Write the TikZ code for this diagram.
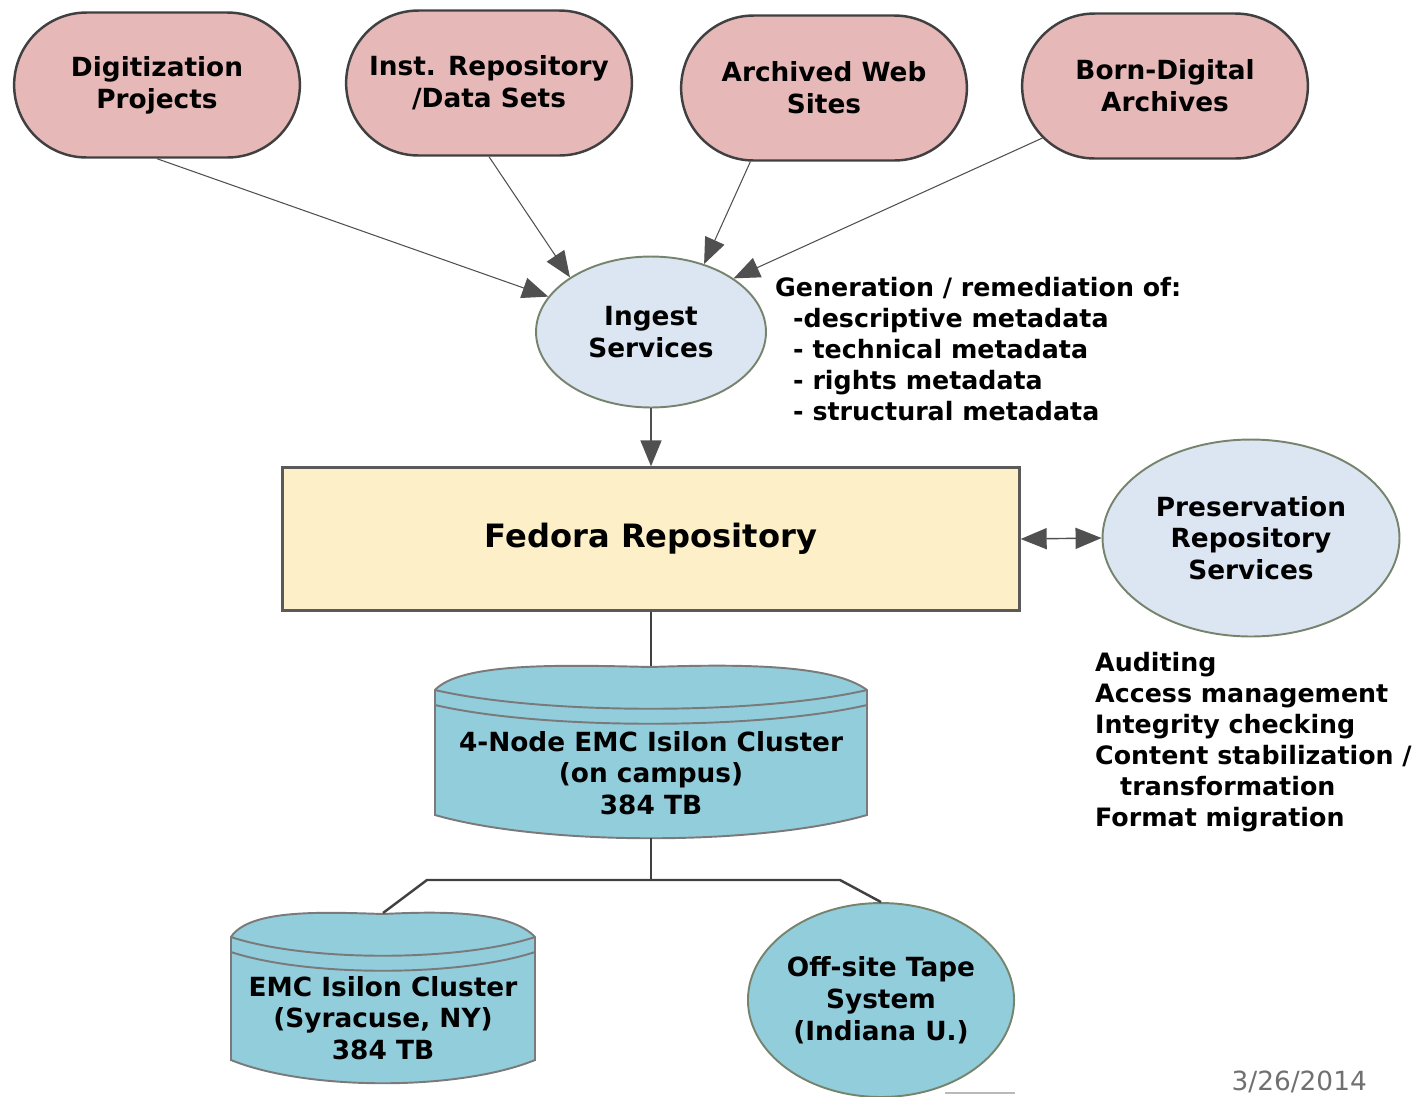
\documentclass[tikz,border=0pt]{standalone}
\usepackage{fontspec}
\setmainfont{DejaVu Sans}
\usetikzlibrary{shapes.geometric,shapes.misc,arrows.meta}

\definecolor{srcpink}{HTML}{E6B9B8}
\definecolor{pinkline}{HTML}{404040}
\definecolor{svcblue}{HTML}{DCE6F2}
\definecolor{svcline}{HTML}{76846E}
\definecolor{fedyellow}{HTML}{FDF0C8}
\definecolor{fedline}{HTML}{5A5A5A}
\definecolor{drumblue}{HTML}{92CDDC}
\definecolor{drumline}{HTML}{7A7A7A}
\definecolor{arrowgray}{HTML}{505050}
\definecolor{dategray}{HTML}{707070}

\tikzset{bigtip/.tip={Triangle[length=0.52cm,width=0.42cm]}}
\tikzset{pics/drum/.style args={#1/#2}{code={
  \path[fill=drumblue,draw=drumline,line width=1.1pt] ({-#1/2},0) -- ({-#1/2},#2)
    .. controls ({-#1/4},{#2+31}) and ({#1/4},{#2+31}) .. ({#1/2},#2) -- ({#1/2},0)
    .. controls ({#1*0.42},-26) and ({#1*0.2},-26) .. (0,-23)
    .. controls ({-#1*0.2},-25) and ({-#1*0.44},-28) .. cycle;
  \draw[drumline,line width=1.1pt] ({-#1/2},0) .. controls ({-#1/4},25) and ({#1/4},25) .. ({#1/2},0);
  \draw[drumline,line width=1.1pt] ({-#1/2},15) .. controls ({-#1/4},40) and ({#1/4},40) .. ({#1/2},15);
  \coordinate (-top) at (0,-24);
  \coordinate (-bot) at (0,{#2+23});
}}}

\begin{document}
\begin{tikzpicture}
[x=0.02cm,y=-0.02cm,
 every node/.style={font=\bfseries\fontsize{15}{18.1}\selectfont,align=center},
 source/.style={rounded rectangle,draw=pinkline,fill=srcpink,line width=1.4pt,minimum width=5.95cm,minimum height=2.9cm},
 service/.style={ellipse,draw=svcline,fill=svcblue,line width=1.1pt,inner sep=0pt},
 notes/.style={align=left,font=\bfseries\fontsize{14.4}{17.6}\selectfont,anchor=north west},
 feed/.style={-bigtip,draw=arrowgray,line width=0.6pt},
 trunk/.style={draw=pinkline,line width=1.4pt}]
\useasboundingbox (0,0) rectangle (1415,1096);

% sources
\node[source] (dig) at (157,85) {Digitization\\Projects};
\node[source] (inst) at (489,83) {Inst. Repository\\/Data Sets};
\node[source] (arch) at (824,88) {Archived Web\\Sites};
\node[source] (born) at (1165,86) {Born-Digital\\Archives};

% services
\node[service,minimum width=4.6cm,minimum height=3.02cm] (ing) at (651,332) {Ingest\\Services};
\node[rectangle,draw=fedline,fill=fedyellow,line width=1.4pt,minimum width=14.74cm,minimum height=2.86cm,
  font=\bfseries\fontsize{18.3}{21}\selectfont] (fed) at (651,539) {Fedora Repository};
\node[service,minimum width=5.94cm,minimum height=3.94cm] (pres) at (1251,538) {Preservation\\Repository\\Services};

\node[notes] (meta) at (769,271) {Generation / remediation of:\\
  \hspace*{0.36cm}-descriptive metadata\\
  \hspace*{0.36cm}- technical metadata\\
  \hspace*{0.36cm}- rights metadata\\
  \hspace*{0.36cm}- structural metadata};
\node[notes] (tasks) at (1089,646) {Auditing\\
  Access management\\
  Integrity checking\\
  Content stabilization /\\
  \hspace*{0.5cm}transformation\\
  Format migration};

% storage
\pic (isi) at (651,690) {drum=432/125};
\pic (syr) at (383,937) {drum=304/123};
\node (isilon) at (651,773) {4-Node EMC Isilon Cluster\\(on campus)\\384 TB};
\node (syracuse) at (383,1018) {EMC Isilon Cluster\\(Syracuse, NY)\\384 TB};
\node[service,fill=drumblue,minimum width=5.24cm,minimum height=3.88cm] (tape) at (881,1000) {Off-site Tape\\System\\(Indiana U.)};
\draw[gray!55,line width=1.5pt] (945,1093) -- (1015,1093);

\node[font=\fontsize{15}{18}\selectfont,text=dategray,anchor=base east] (date) at (1373,1090) {3/26/2014};

\coordinate (split) at (651,880);
\coordinate (splitL) at (427,880);
\coordinate (splitR) at (840,880);

\foreach \from/\to in {dig.south/ing.161,inst.south/ing.146,arch.-135/ing.52,born.-157/ing.33}
  \draw[feed] (\from) -- (\to);
\draw[feed,line width=1pt] (ing.south) -- (fed.north);
\draw[bigtip-bigtip,draw=arrowgray,line width=0.8pt] (fed.east) -- (pres.west);
\draw[trunk] (fed.south) -- (isi-top);
\draw[trunk] (isi-bot) -- (split);
\draw[trunk] (syr-top) -- (splitL) -- (splitR) -- (tape.north);
\end{tikzpicture}
\end{document}
